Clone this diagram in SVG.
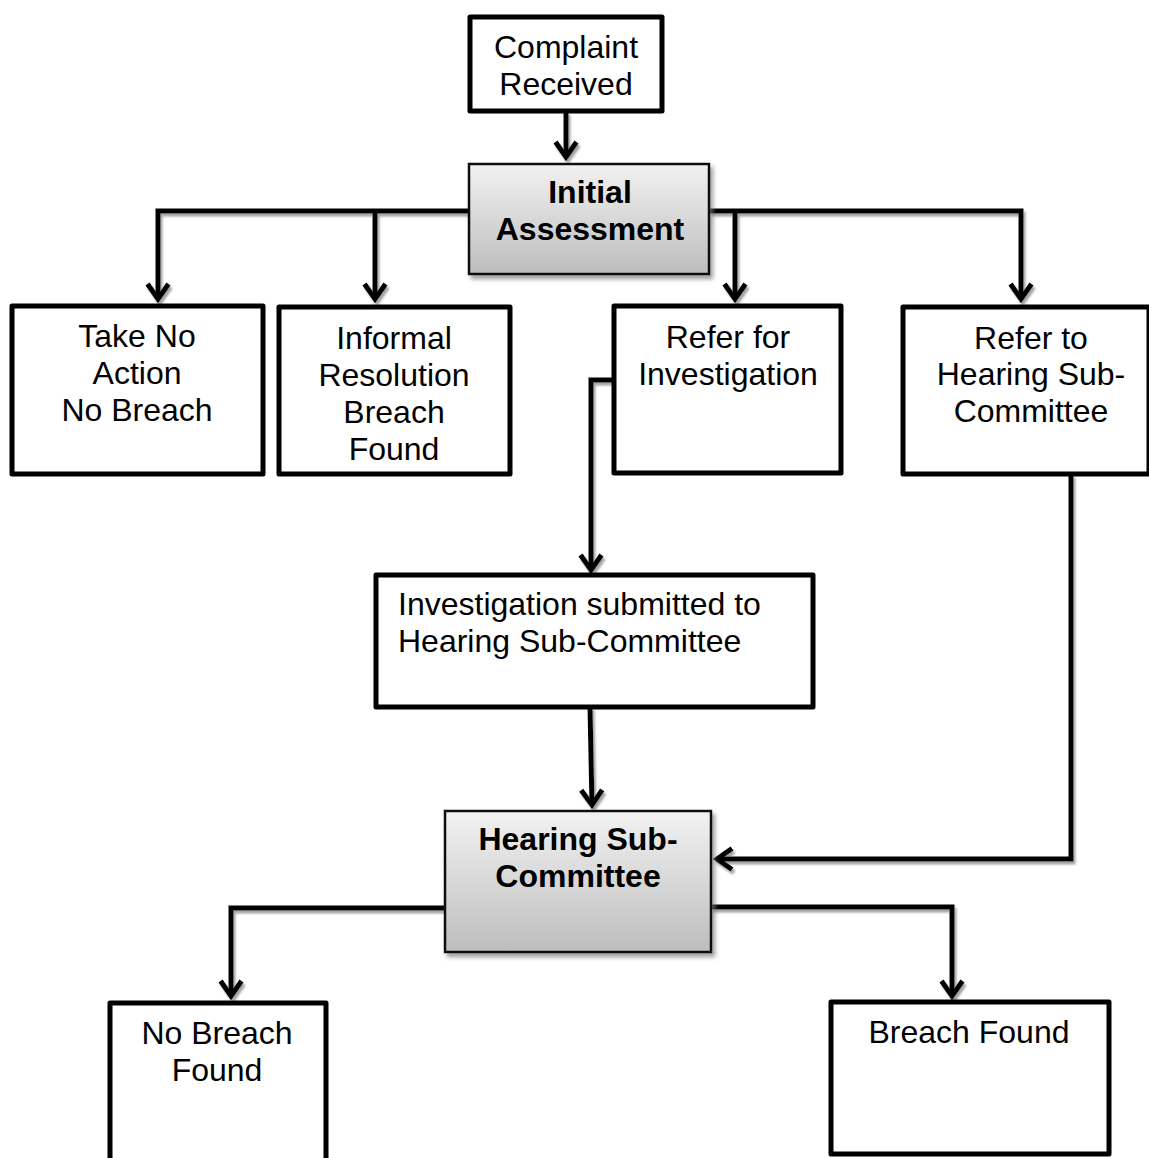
<svg xmlns="http://www.w3.org/2000/svg" width="1149" height="1158" viewBox="0 0 1149 1158">
<defs>
<linearGradient id="gray" x1="0" y1="0" x2="0" y2="1">
<stop offset="0" stop-color="#f2f2f2"/>
<stop offset="1" stop-color="#bdbdbd"/>
</linearGradient>
<filter id="sh" x="-10%" y="-10%" width="130%" height="130%">
<feDropShadow dx="2" dy="3" stdDeviation="1" flood-color="#8a8a8a" flood-opacity="0.8"/>
</filter>
<filter id="bsh" x="-10%" y="-10%" width="130%" height="130%">
<feDropShadow dx="3" dy="4" stdDeviation="2" flood-color="#777" flood-opacity="0.7"/>
</filter>
<marker id="arr" viewBox="-20 -14 24 28" refX="0" refY="0" markerWidth="24" markerHeight="28" markerUnits="userSpaceOnUse" orient="auto">
<path d="M-15,-10.5 L0,0 L-15,10.5" fill="none" stroke="#000" stroke-width="5" stroke-linejoin="miter"/>
</marker>
</defs>
<style>
.box{fill:#fff;stroke:#000;stroke-width:5;stroke-linejoin:round}
.gbox{fill:url(#gray);stroke:#111;stroke-width:2.5;filter:url(#bsh)}
.t{font-family:"Liberation Sans",Arial,sans-serif;font-size:32px;fill:#000}
.b{font-weight:bold}
.c{fill:none;stroke:#000;stroke-width:5;stroke-linejoin:miter}
</style>
<rect width="1149" height="1158" fill="#fff"/>
<g id="connectors" filter="url(#sh)">
<path class="c" d="M566,112 V157" marker-end="url(#arr)"/>
<path class="c" d="M469,211 H158 V299" marker-end="url(#arr)"/>
<path class="c" d="M375,211 V299" marker-end="url(#arr)"/>
<path class="c" d="M709,211 H1021 V299" marker-end="url(#arr)"/>
<path class="c" d="M735,211 V299" marker-end="url(#arr)"/>
<path class="c" d="M612,380 H591 V570" marker-end="url(#arr)"/>
<path class="c" d="M590,707 L592,805" marker-end="url(#arr)"/>
<path class="c" d="M1071,475 V859 H717" marker-end="url(#arr)"/>
<path class="c" d="M444,908 H231 V996" marker-end="url(#arr)"/>
<path class="c" d="M711,907 H952 V996" marker-end="url(#arr)"/>
</g>
<g id="complaint">
<rect class="box" x="470" y="17" width="192" height="94"/>
<text class="t" x="566" y="58" text-anchor="middle">Complaint</text>
<text class="t" x="566" y="95" text-anchor="middle">Received</text>
</g>
<g id="initial">
<rect class="gbox" x="469" y="164" width="240" height="110"/>
<text class="t b" x="590" y="203" text-anchor="middle">Initial</text>
<text class="t b" x="590" y="240" text-anchor="middle">Assessment</text>
</g>
<g id="noaction">
<rect class="box" x="12" y="306" width="251" height="168"/>
<text class="t" x="137" y="347" text-anchor="middle">Take No</text>
<text class="t" x="137" y="384" text-anchor="middle">Action</text>
<text class="t" x="137" y="421" text-anchor="middle">No Breach</text>
</g>
<g id="informal">
<rect class="box" x="279" y="307" width="231" height="167"/>
<text class="t" x="394" y="349" text-anchor="middle">Informal</text>
<text class="t" x="394" y="386" text-anchor="middle">Resolution</text>
<text class="t" x="394" y="423" text-anchor="middle">Breach</text>
<text class="t" x="394" y="460" text-anchor="middle">Found</text>
</g>
<g id="referinv">
<rect class="box" x="614" y="306" width="227" height="167"/>
<text class="t" x="728" y="348" text-anchor="middle">Refer for</text>
<text class="t" x="728" y="385" text-anchor="middle">Investigation</text>
</g>
<g id="referhear">
<rect class="box" x="903" y="307" width="246" height="167"/>
<text class="t" x="1031" y="349" text-anchor="middle">Refer to</text>
<text class="t" x="1031" y="385" text-anchor="middle">Hearing Sub-</text>
<text class="t" x="1031" y="422" text-anchor="middle">Committee</text>
</g>
<g id="invsubmitted">
<rect class="box" x="376" y="575" width="437" height="132"/>
<text class="t" x="398" y="615">Investigation submitted to</text>
<text class="t" x="398" y="652">Hearing Sub-Committee</text>
</g>
<g id="hearing">
<rect class="gbox" x="445" y="811" width="266" height="141"/>
<text class="t b" x="578" y="850" text-anchor="middle">Hearing Sub-</text>
<text class="t b" x="578" y="887" text-anchor="middle">Committee</text>
</g>
<g id="nobreach">
<rect class="box" x="110" y="1003" width="216" height="170"/>
<text class="t" x="217" y="1044" text-anchor="middle">No Breach</text>
<text class="t" x="217" y="1081" text-anchor="middle">Found</text>
</g>
<g id="breach">
<rect class="box" x="831" y="1002" width="278" height="152"/>
<text class="t" x="969" y="1043" text-anchor="middle">Breach Found</text>
</g>
</svg>
